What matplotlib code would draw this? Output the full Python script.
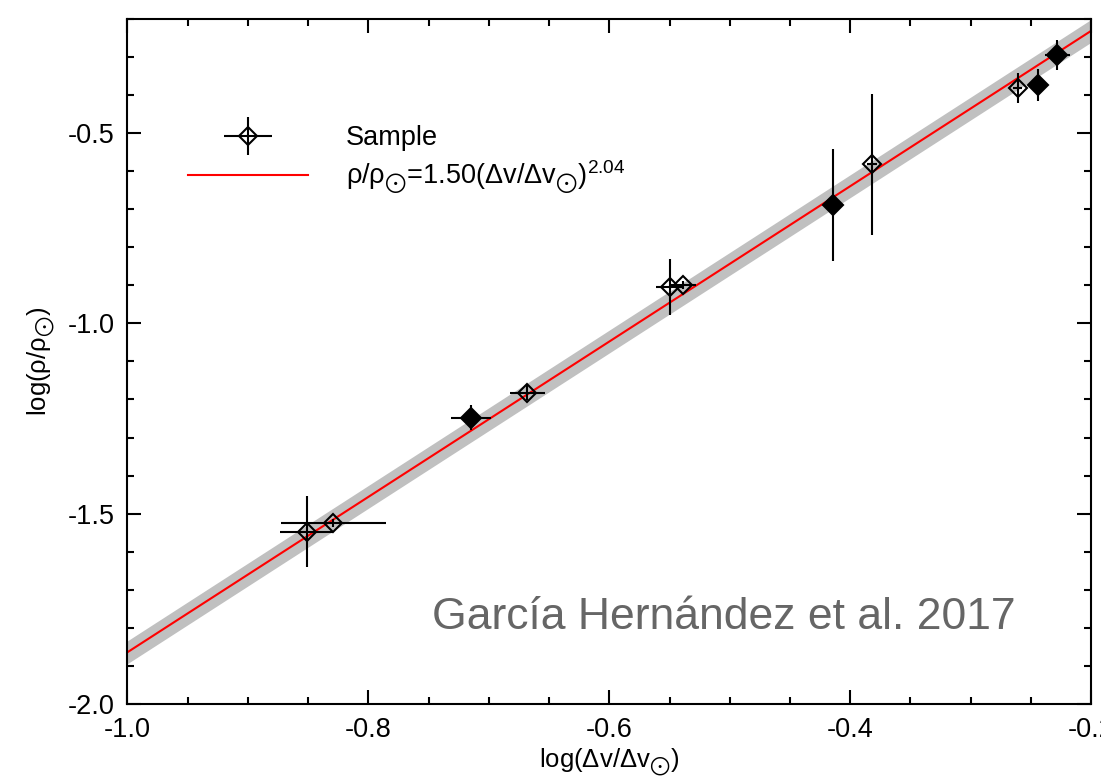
import numpy as np
import matplotlib
matplotlib.use('Agg')
import matplotlib.pyplot as plt
from matplotlib.legend_handler import HandlerErrorbar

plt.rcParams['font.family'] = ['Liberation Sans', 'DejaVu Sans']
plt.rcParams['mathtext.fontset'] = 'custom'
plt.rcParams['mathtext.rm'] = 'Liberation Sans'
plt.rcParams['mathtext.it'] = 'Liberation Sans:italic'
plt.rcParams['mathtext.fallback'] = 'stixsans'
plt.rcParams['axes.unicode_minus'] = False

# sample stars: log(dnu/dnu_sun), log(rho/rho_sun) and their errors
log_dnu = [-0.851, -0.829, -0.715, -0.668, -0.550, -0.539, -0.414, -0.382, -0.261, -0.244, -0.228]
log_rho = [-1.547, -1.524, -1.248, -1.182, -0.905, -0.900, -0.689, -0.582, -0.382, -0.374, -0.295]
err_dnu = [0.022, 0.0435, 0.0166, 0.0144, 0.011, 0.011, 0.008, 0.004, 0.004, 0.004, 0.0104]
err_rho = [0.093, 0.010, 0.033, 0.020, 0.073, 0.010, 0.148, 0.185, 0.040, 0.043, 0.039]
filled = [False, False, True, False, False, False, True, False, False, True, True]

# scaling relation rho/rho_sun = 1.50 (dnu/dnu_sun)^2.04
fit_coeff = 1.50
fit_exp = 2.04
band_half = 0.03

xlim = (-1.0, -0.2)
ylim = (-2.0, -0.2)

sun = r'$_{\bigodot}$'
fit_label = 'ρ/ρ' + sun + r'=1.50(Δv/Δv' + sun + r')$^{2.04}$'

fig = plt.figure(figsize=(11.01, 7.8), dpi=100)
ax = fig.add_axes([0.1158, 0.0974, 0.8752, 0.8786])

xfit = np.linspace(xlim[0], xlim[1], 50)
yfit = np.log10(fit_coeff) + fit_exp * xfit
ax.fill_between(xfit, yfit - band_half, yfit + band_half, color='#c0c0c0', lw=0, zorder=1)
h_line, = ax.plot(xfit, yfit, color='red', lw=1.5, zorder=2)

for x, y, ex, ey, f in zip(log_dnu, log_rho, err_dnu, err_rho, filled):
    ax.errorbar(x, y, xerr=ex, yerr=ey, fmt='D', color='black', ecolor='black',
                elinewidth=1.5, capsize=0,
                ms=10.5 if f else 9.5, mew=1.5,
                mfc='black' if f else 'none', mec='black', zorder=3)

# legend entry for the sample (open diamond)
h_sample = ax.errorbar([], [], xerr=[], yerr=[], fmt='D', color='black', ecolor='black',
                       elinewidth=1.5, capsize=0, ms=9.5, mew=1.5, mfc='none')
ax.legend([h_sample, h_line], ['Sample', fit_label],
          loc='upper left', bbox_to_anchor=(0.037, 0.88), frameon=False,
          fontsize=19.5, handlelength=4.45, handletextpad=1.4, labelspacing=0.25,
          handler_map={type(h_sample): HandlerErrorbar(xerr_size=0.88, yerr_size=0.7)})

ax.text(0.922, 0.109, 'García Hernández et al. 2017', transform=ax.transAxes,
        ha='right', va='baseline', fontsize=32, color='#666666')

ax.set_xlim(*xlim)
ax.set_ylim(*ylim)
ax.set_xticks([-1.0, -0.8, -0.6, -0.4, -0.2])
ax.set_xticks(np.arange(-1.0, -0.19, 0.05), minor=True)
ax.set_yticks([-2.0, -1.5, -1.0, -0.5])
ax.set_yticks(np.arange(-2.0, -0.19, 0.1), minor=True)
ax.set_xticklabels(['-1.0', '-0.8', '-0.6', '-0.4', '-0.2'])
ax.set_yticklabels(['-2.0', '-1.5', '-1.0', '-0.5'])
ax.tick_params(which='both', direction='in', top=True, right=True, width=1.5,
               labelsize=19.5, pad=9)
ax.tick_params(which='major', length=10)
ax.tick_params(which='minor', length=5)
for sp in ax.spines.values():
    sp.set_linewidth(1.5)

ax.set_xlabel('log(Δv/Δv' + sun + ')', fontsize=18.5, labelpad=3)
ax.set_ylabel('log(ρ/ρ' + sun + ')', fontsize=18.5, labelpad=8)

fig.savefig('out.png', dpi=100)
